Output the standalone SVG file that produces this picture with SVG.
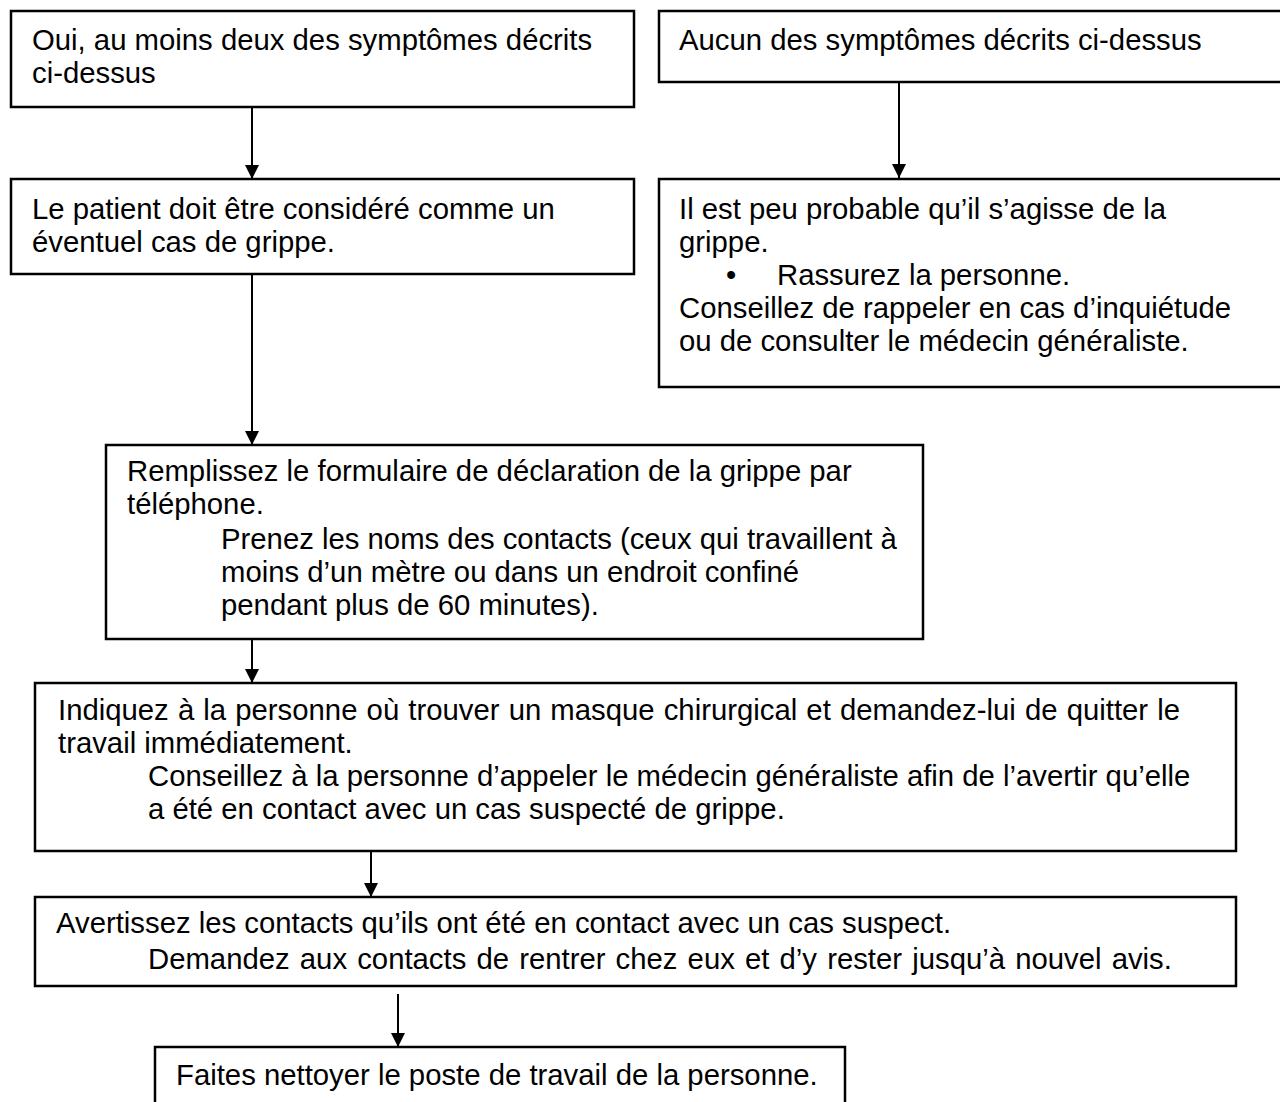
<svg xmlns="http://www.w3.org/2000/svg" width="1280" height="1102" viewBox="0 0 1280 1102">
<defs>
<style>
.box{fill:#fff;stroke:#000;stroke-width:2.5}
.t{font-family:"Liberation Sans",Arial,sans-serif;font-size:29.3px;fill:#000}
.c{stroke:#000;stroke-width:2;fill:none}
</style>
<marker id="ah" markerWidth="14" markerHeight="14" refX="14" refY="7" orient="auto" markerUnits="userSpaceOnUse" viewBox="0 0 14 14">
<path d="M0,0 L14,7 L0,14 Z" fill="#000"/>
</marker>
</defs>
<rect width="1280" height="1102" fill="#fff"/>
<g id="connectors">
<line class="c" x1="252" y1="107" x2="252" y2="179" marker-end="url(#ah)"/>
<line class="c" x1="899" y1="82" x2="899" y2="178" marker-end="url(#ah)"/>
<line class="c" x1="252" y1="274" x2="252" y2="445" marker-end="url(#ah)"/>
<line class="c" x1="252" y1="639" x2="252" y2="683" marker-end="url(#ah)"/>
<line class="c" x1="371" y1="851" x2="371" y2="897" marker-end="url(#ah)"/>
<line class="c" x1="398" y1="994" x2="398" y2="1047" marker-end="url(#ah)"/>
</g>
<g id="n1">
<rect class="box" x="11" y="11" width="623" height="96"/>
<text class="t" x="32" y="50">Oui, au moins deux des symptômes décrits</text>
<text class="t" x="32" y="83">ci-dessus</text>
</g>
<g id="n2">
<rect class="box" x="659" y="11" width="630" height="71"/>
<text class="t" x="679" y="50">Aucun des symptômes décrits ci-dessus</text>
</g>
<g id="n3">
<rect class="box" x="11" y="179" width="623" height="95"/>
<text class="t" x="32" y="219">Le patient doit être considéré comme un</text>
<text class="t" x="32" y="252">éventuel cas de grippe.</text>
</g>
<g id="n4">
<rect class="box" x="659" y="179" width="630" height="208"/>
<text class="t" x="679" y="219">Il est peu probable qu’il s’agisse de la</text>
<text class="t" x="679" y="252">grippe.</text>
<text class="t" x="726" y="285">•</text>
<text class="t" x="777" y="285">Rassurez la personne.</text>
<text class="t" x="679" y="318">Conseillez de rappeler en cas d’inquiétude</text>
<text class="t" x="679" y="351">ou de consulter le médecin généraliste.</text>
</g>
<g id="n5">
<rect class="box" x="106" y="445" width="817" height="194"/>
<text class="t" x="127" y="481">Remplissez le formulaire de déclaration de la grippe par</text>
<text class="t" x="127" y="514">téléphone.</text>
<text class="t" x="221" y="549">Prenez les noms des contacts (ceux qui travaillent à</text>
<text class="t" x="221" y="582">moins d’un mètre ou dans un endroit confiné</text>
<text class="t" x="221" y="615">pendant plus de 60 minutes).</text>
</g>
<g id="n6">
<rect class="box" x="35" y="683" width="1201" height="168"/>
<text class="t" x="58" y="720" word-spacing="1">Indiquez à la personne où trouver un masque chirurgical et demandez-lui de quitter le</text>
<text class="t" x="58" y="753">travail immédiatement.</text>
<text class="t" x="148" y="786">Conseillez à la personne d’appeler le médecin généraliste afin de l’avertir qu’elle</text>
<text class="t" x="148" y="819">a été en contact avec un cas suspecté de grippe.</text>
</g>
<g id="n7">
<rect class="box" x="35" y="897" width="1201" height="89"/>
<text class="t" x="56" y="933">Avertissez les contacts qu’ils ont été en contact avec un cas suspect.</text>
<text class="t" x="148" y="969" word-spacing="2">Demandez aux contacts de rentrer chez eux et d’y rester jusqu’à nouvel avis.</text>
</g>
<g id="n8">
<rect class="box" x="155" y="1047" width="690" height="80"/>
<text class="t" x="176" y="1085">Faites nettoyer le poste de travail de la personne.</text>
</g>
</svg>
